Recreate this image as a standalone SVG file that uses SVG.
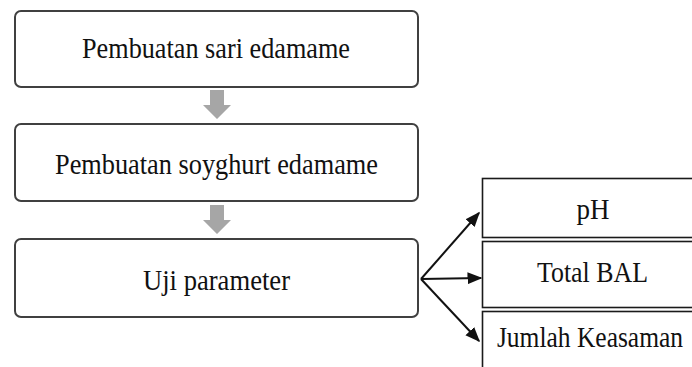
<svg xmlns="http://www.w3.org/2000/svg" width="692" height="367" viewBox="0 0 692 367">
<defs>
<style>
.step{fill:#fff;stroke:#404040;stroke-width:2}
.res{fill:#fff;stroke:#1a1a1a;stroke-width:1.6}
.t{font-family:"Liberation Serif","Times New Roman",serif;font-size:30px;fill:#111;text-anchor:middle}
.block{fill:#a6a6a6}
.ln{stroke:#111;stroke-width:2;fill:none}
</style>
<marker id="ah" viewBox="0 0 10 10" refX="9" refY="5" markerWidth="7.5" markerHeight="7.5" orient="auto" markerUnits="strokeWidth">
<path d="M0,1 L10,5 L0,9 z" fill="#111"/>
</marker>
</defs>
<rect width="692" height="367" fill="#fff"/>
<g id="connectors">
<path class="block" d="M210,90 H224 V105 H231 L217,119 L203,105 H210 Z"/>
<path class="block" d="M210,205 H224 V220 H231 L217,234 L203,220 H210 Z"/>
<line class="ln" x1="421" y1="279" x2="479" y2="213" marker-end="url(#ah)"/>
<line class="ln" x1="421" y1="279" x2="481" y2="278" marker-end="url(#ah)"/>
<line class="ln" x1="421" y1="279" x2="479" y2="341" marker-end="url(#ah)"/>
</g>
<g id="n1">
<rect class="step" x="15" y="11" width="403" height="76" rx="6"/>
<text class="t" x="216" y="58" textLength="268" lengthAdjust="spacingAndGlyphs">Pembuatan sari edamame</text>
</g>
<g id="n2">
<rect class="step" x="15" y="124" width="403" height="77" rx="6"/>
<text class="t" x="216.5" y="174" textLength="323" lengthAdjust="spacingAndGlyphs">Pembuatan soyghurt edamame</text>
</g>
<g id="n3">
<rect class="step" x="15" y="239" width="403" height="78" rx="6"/>
<text class="t" x="216.5" y="290" textLength="147" lengthAdjust="spacingAndGlyphs">Uji parameter</text>
</g>
<g id="r1">
<rect class="res" x="482.5" y="178.5" width="240" height="59"/>
<text class="t" x="593" y="219" textLength="33" lengthAdjust="spacingAndGlyphs">pH</text>
</g>
<g id="r2">
<rect class="res" x="482.5" y="241.5" width="240" height="66"/>
<text class="t" x="592.5" y="282" textLength="111" lengthAdjust="spacingAndGlyphs">Total BAL</text>
</g>
<g id="r3">
<rect class="res" x="482.5" y="311.5" width="240" height="80"/>
<text class="t" transform="translate(590,347) scale(0.85,1)" x="0" y="0">Jumlah Keasaman</text>
</g>
</svg>
